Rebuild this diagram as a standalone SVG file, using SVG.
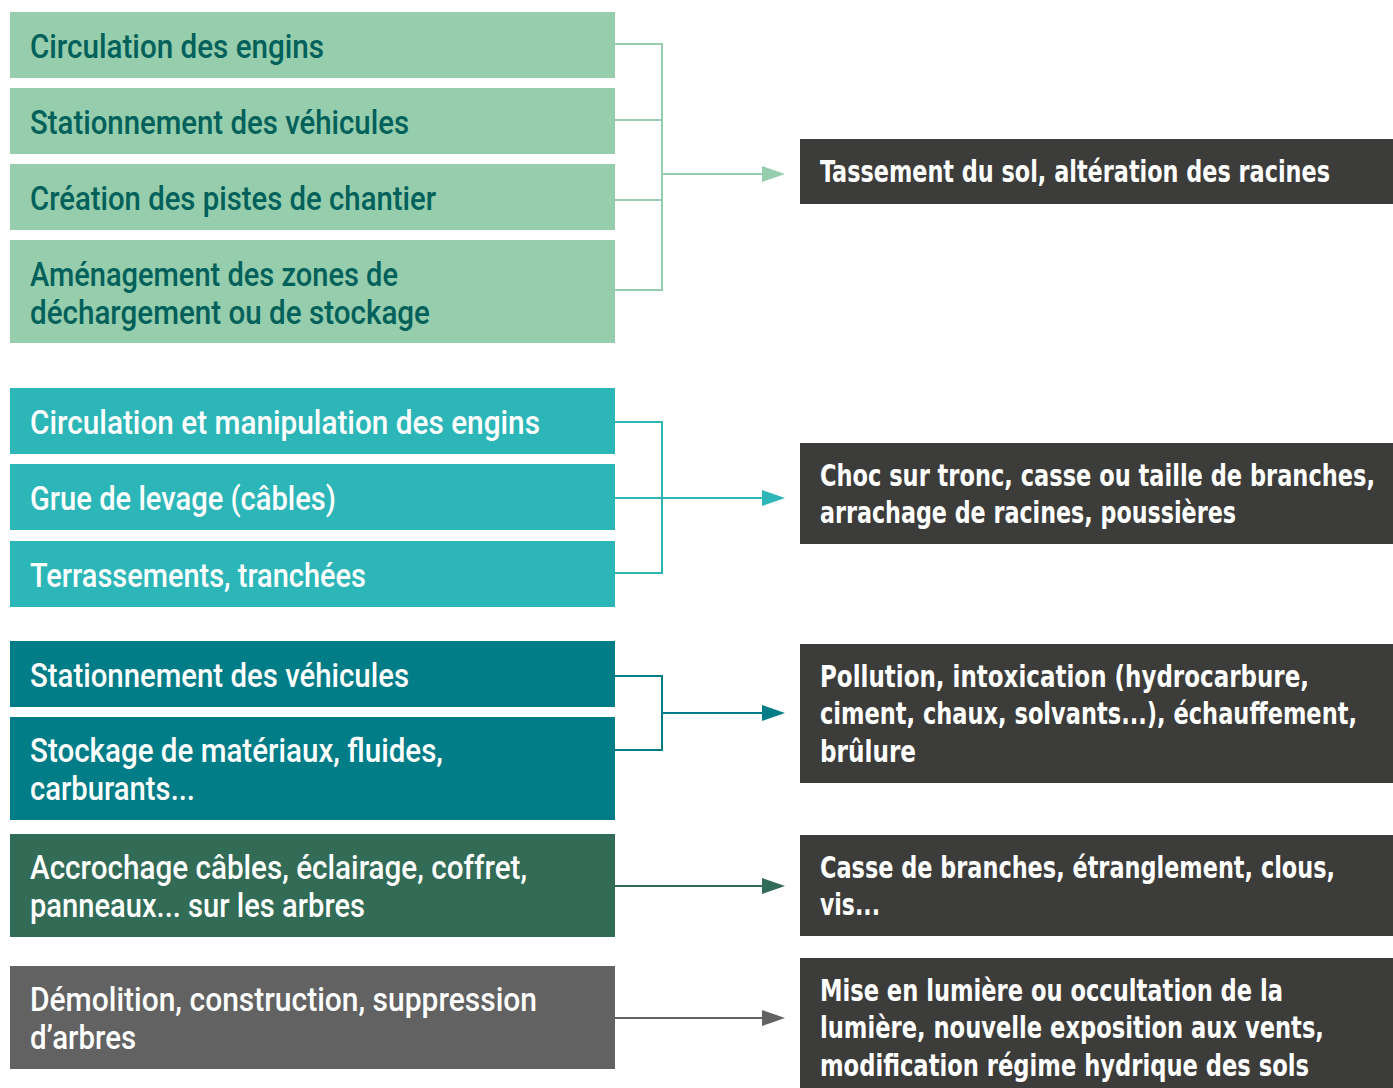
<svg xmlns="http://www.w3.org/2000/svg" width="1393" height="1088" viewBox="0 0 1393 1088">
<style>
.l{font-family:Roboto,"DejaVu Sans Condensed","Liberation Sans",sans-serif;font-size:34px;font-weight:500}
.r{font-family:"DejaVu Sans Condensed","DejaVu Sans","Liberation Sans",sans-serif;font-size:30px;font-weight:bold;fill:#ffffff}
.g1{fill:#96cdad}
.g2{fill:#2cb6b8}
.g3{fill:#007d87}
.g4{fill:#326b56}
.g5{fill:#626262}
.rb{fill:#3c3c3a}
.t1{fill:#00605a}
.tw{fill:#ffffff}
.c{fill:none;stroke-width:2}
</style>
<rect width="1393" height="1088" fill="#ffffff"/>
<g id="connectors">
<path class="c" stroke="#96cdad" d="M615 44H662V290H615M615 120H662M615 200H662M662 174H764"/>
<polygon fill="#96cdad" points="762,166 785,174 762,182"/>
<path class="c" stroke="#2cb6b8" d="M615 422H662V573H615M615 498H764"/>
<polygon fill="#2cb6b8" points="762,490 785,498 762,506"/>
<path class="c" stroke="#007d87" d="M615 676H662V750H615M662 713H764"/>
<polygon fill="#007d87" points="762,705 785,713 762,721"/>
<path class="c" stroke="#326b56" d="M615 886H764"/>
<polygon fill="#326b56" points="762,878 785,886 762,894"/>
<path class="c" stroke="#626262" d="M615 1018H764"/>
<polygon fill="#626262" points="762,1010 785,1018 762,1026"/>
</g>
<g id="n1"><rect class="g1" x="10" y="12" width="605" height="66"/><text class="l t1" transform="translate(30,58) scale(0.88,1)" textLength="334.1" lengthAdjust="spacingAndGlyphs">Circulation des engins</text></g>
<g id="n2"><rect class="g1" x="10" y="88" width="605" height="66"/><text class="l t1" transform="translate(30,134) scale(0.88,1)" textLength="430.7" lengthAdjust="spacingAndGlyphs">Stationnement des véhicules</text></g>
<g id="n3"><rect class="g1" x="10" y="164" width="605" height="66"/><text class="l t1" transform="translate(30,210) scale(0.88,1)" textLength="461.4" lengthAdjust="spacingAndGlyphs">Création des pistes de chantier</text></g>
<g id="n4"><rect class="g1" x="10" y="240" width="605" height="103"/><text class="l t1" transform="translate(30,286) scale(0.88,1)" textLength="418.2" lengthAdjust="spacingAndGlyphs">Aménagement des zones de</text><text class="l t1" transform="translate(30,324) scale(0.88,1)" textLength="454.5" lengthAdjust="spacingAndGlyphs">déchargement ou de stockage</text></g>
<g id="n5"><rect class="g2" x="10" y="388" width="605" height="66"/><text class="l tw" transform="translate(30,434) scale(0.88,1)" textLength="579.5" lengthAdjust="spacingAndGlyphs">Circulation et manipulation des engins</text></g>
<g id="n6"><rect class="g2" x="10" y="464" width="605" height="66"/><text class="l tw" transform="translate(30,510) scale(0.88,1)" textLength="347.7" lengthAdjust="spacingAndGlyphs">Grue de levage (câbles)</text></g>
<g id="n7"><rect class="g2" x="10" y="541" width="605" height="66"/><text class="l tw" transform="translate(30,587) scale(0.88,1)" textLength="381.8" lengthAdjust="spacingAndGlyphs">Terrassements, tranchées</text></g>
<g id="n8"><rect class="g3" x="10" y="641" width="605" height="66"/><text class="l tw" transform="translate(30,687) scale(0.88,1)" textLength="430.7" lengthAdjust="spacingAndGlyphs">Stationnement des véhicules</text></g>
<g id="n9"><rect class="g3" x="10" y="717" width="605" height="103"/><text class="l tw" transform="translate(30,762) scale(0.88,1)" textLength="469.3" lengthAdjust="spacingAndGlyphs">Stockage de matériaux, fluides,</text><text class="l tw" transform="translate(30,800) scale(0.88,1)" textLength="187.5" lengthAdjust="spacingAndGlyphs">carburants...</text></g>
<g id="n10"><rect class="g4" x="10" y="834" width="605" height="103"/><text class="l tw" transform="translate(30,879) scale(0.88,1)" textLength="564.8" lengthAdjust="spacingAndGlyphs">Accrochage câbles, éclairage, coffret,</text><text class="l tw" transform="translate(30,917) scale(0.88,1)" textLength="380.7" lengthAdjust="spacingAndGlyphs">panneaux... sur les arbres</text></g>
<g id="n11"><rect class="g5" x="10" y="966" width="605" height="103"/><text class="l tw" transform="translate(30,1011) scale(0.88,1)" textLength="576.1" lengthAdjust="spacingAndGlyphs">Démolition, construction, suppression</text><text class="l tw" transform="translate(30,1049) scale(0.88,1)" textLength="120.5" lengthAdjust="spacingAndGlyphs">d’arbres</text></g>
<g id="r1"><rect class="rb" x="800" y="139" width="593" height="65"/><text class="r" transform="translate(820,182) scale(0.83,1)" textLength="614.5" lengthAdjust="spacingAndGlyphs">Tassement du sol, altération des racines</text></g>
<g id="r2"><rect class="rb" x="800" y="443" width="593" height="101"/><text class="r" transform="translate(820,486) scale(0.83,1)" textLength="668.7" lengthAdjust="spacingAndGlyphs">Choc sur tronc, casse ou taille de branches,</text><text class="r" transform="translate(820,523) scale(0.83,1)" textLength="501.2" lengthAdjust="spacingAndGlyphs">arrachage de racines, poussières</text></g>
<g id="r3"><rect class="rb" x="800" y="644" width="593" height="139"/><text class="r" transform="translate(820,687) scale(0.83,1)" textLength="589.2" lengthAdjust="spacingAndGlyphs">Pollution, intoxication (hydrocarbure,</text><text class="r" transform="translate(820,724) scale(0.83,1)" textLength="647" lengthAdjust="spacingAndGlyphs">ciment, chaux, solvants...), échauffement,</text><text class="r" transform="translate(820,762) scale(0.83,1)" textLength="115.7" lengthAdjust="spacingAndGlyphs">brûlure</text></g>
<g id="r4"><rect class="rb" x="800" y="835" width="593" height="101"/><text class="r" transform="translate(820,878) scale(0.83,1)" textLength="620.5" lengthAdjust="spacingAndGlyphs">Casse de branches, étranglement, clous,</text><text class="r" transform="translate(820,915) scale(0.83,1)" textLength="72.3" lengthAdjust="spacingAndGlyphs">vis...</text></g>
<g id="r5"><rect class="rb" x="800" y="958" width="593" height="130"/><text class="r" transform="translate(820,1001) scale(0.83,1)" textLength="557.8" lengthAdjust="spacingAndGlyphs">Mise en lumière ou occultation de la</text><text class="r" transform="translate(820,1038) scale(0.83,1)" textLength="607.2" lengthAdjust="spacingAndGlyphs">lumière, nouvelle exposition aux vents,</text><text class="r" transform="translate(820,1076) scale(0.83,1)" textLength="589.2" lengthAdjust="spacingAndGlyphs">modification régime hydrique des sols</text></g>
</svg>
